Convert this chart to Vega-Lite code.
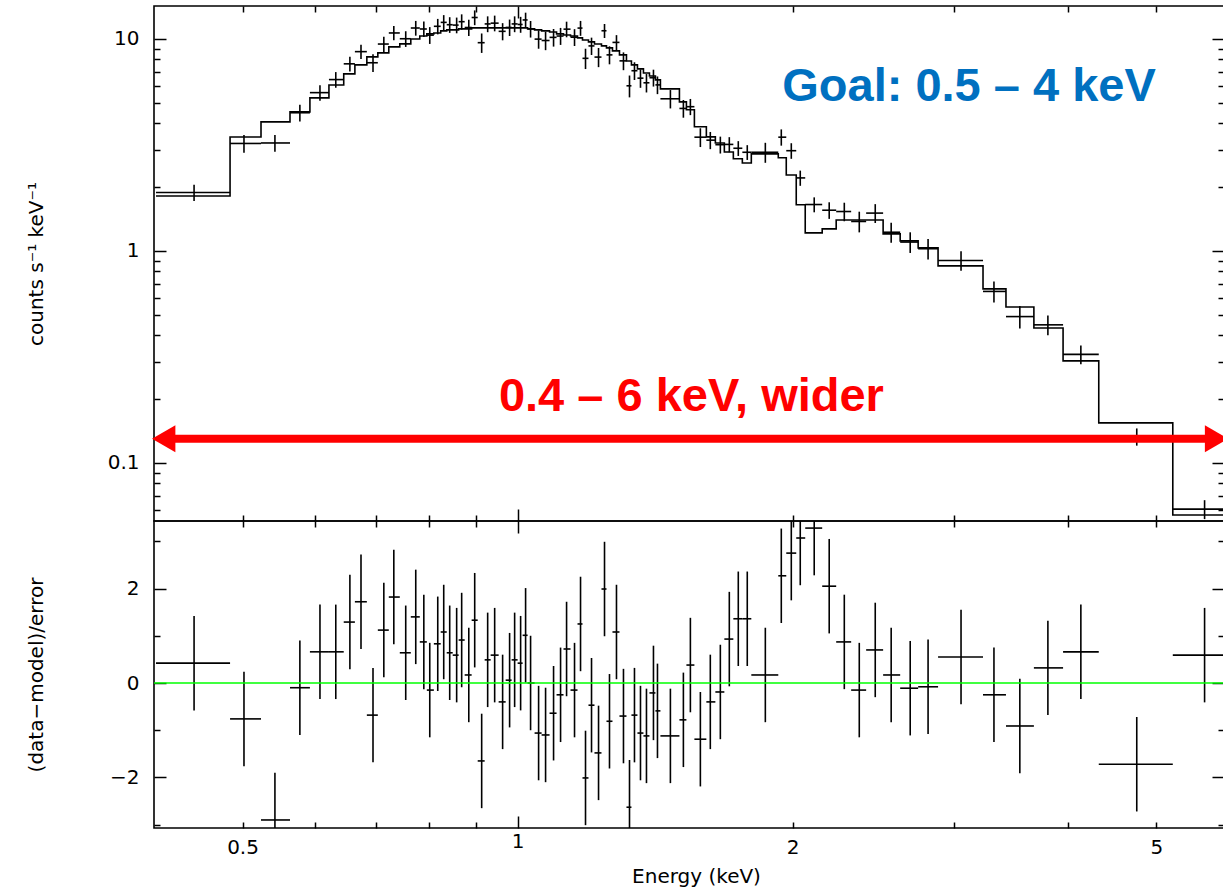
{
  "$schema": "https://vega.github.io/schema/vega-lite/v6.json",
  "padding": {"left": 25, "top": 4, "right": 0, "bottom": 0},
  "spacing": 0,
  "bounds": "flush",
  "datasets": {
    "bins": [
      {"e": 0.4425, "lo": 0.402, "hi": 0.4845, "rate": 1.886, "err": 0.164, "res": 0.42, "rerr": 1},
      {"e": 0.5018, "lo": 0.4845, "hi": 0.5238, "rate": 3.213, "err": 0.31, "res": -0.76, "rerr": 1},
      {"e": 0.5425, "lo": 0.5238, "hi": 0.5635, "rate": 3.23, "err": 0.29, "res": -2.9, "rerr": 1},
      {"e": 0.5777, "lo": 0.5635, "hi": 0.5925, "rate": 4.485, "err": 0.407, "res": -0.1, "rerr": 1},
      {"e": 0.6077, "lo": 0.5925, "hi": 0.6216, "rate": 5.58, "err": 0.474, "res": 0.66, "rerr": 1},
      {"e": 0.6324, "lo": 0.6216, "hi": 0.6452, "rate": 6.43, "err": 0.546, "res": 0.66, "rerr": 1},
      {"e": 0.6553, "lo": 0.6452, "hi": 0.6636, "rate": 7.63, "err": 0.615, "res": 1.29, "rerr": 1},
      {"e": 0.6739, "lo": 0.6636, "hi": 0.6839, "rate": 8.71, "err": 0.679, "res": 1.72, "rerr": 1},
      {"e": 0.6946, "lo": 0.6839, "hi": 0.7031, "rate": 7.72, "err": 0.741, "res": -0.68, "rerr": 1},
      {"e": 0.7138, "lo": 0.7031, "hi": 0.7228, "rate": 9.46, "err": 0.773, "res": 1.12, "rerr": 1},
      {"e": 0.732, "lo": 0.7228, "hi": 0.7431, "rate": 10.67, "err": 0.825, "res": 1.82, "rerr": 1},
      {"e": 0.7543, "lo": 0.7431, "hi": 0.764, "rate": 10.02, "err": 0.853, "res": 0.64, "rerr": 1},
      {"e": 0.7736, "lo": 0.764, "hi": 0.7815, "rate": 11.26, "err": 0.9, "res": 1.4, "rerr": 1},
      {"e": 0.7895, "lo": 0.7815, "hi": 0.7955, "rate": 11.14, "err": 0.93, "res": 0.87, "rerr": 1},
      {"e": 0.8014, "lo": 0.7955, "hi": 0.8097, "rate": 10.42, "err": 0.95, "res": -0.15, "rerr": 1},
      {"e": 0.8177, "lo": 0.8097, "hi": 0.8238, "rate": 11.47, "err": 0.96, "res": 0.83, "rerr": 1},
      {"e": 0.8301, "lo": 0.8238, "hi": 0.8364, "rate": 11.97, "err": 0.98, "res": 1.08, "rerr": 1},
      {"e": 0.8427, "lo": 0.8364, "hi": 0.8491, "rate": 11.67, "err": 0.99, "res": 0.64, "rerr": 1},
      {"e": 0.8576, "lo": 0.8491, "hi": 0.8619, "rate": 11.62, "err": 0.99, "res": 0.59, "rerr": 1},
      {"e": 0.8685, "lo": 0.8619, "hi": 0.8751, "rate": 12.06, "err": 1.0, "res": 0.91, "rerr": 1},
      {"e": 0.8842, "lo": 0.8751, "hi": 0.8906, "rate": 11.32, "err": 1.0, "res": 0.17, "rerr": 1},
      {"e": 0.8975, "lo": 0.8906, "hi": 0.9043, "rate": 12.62, "err": 1.01, "res": 1.33, "rerr": 1},
      {"e": 0.9134, "lo": 0.9043, "hi": 0.9203, "rate": 9.6, "err": 1.01, "res": -1.65, "rerr": 1},
      {"e": 0.9273, "lo": 0.9203, "hi": 0.9343, "rate": 11.77, "err": 1.01, "res": 0.49, "rerr": 1},
      {"e": 0.9438, "lo": 0.9343, "hi": 0.9533, "rate": 11.87, "err": 1.01, "res": 0.59, "rerr": 1},
      {"e": 0.9629, "lo": 0.9533, "hi": 0.9703, "rate": 10.86, "err": 1.01, "res": -0.4, "rerr": 1},
      {"e": 0.98, "lo": 0.9703, "hi": 0.985, "rate": 11.33, "err": 1.01, "res": 0.06, "rerr": 1},
      {"e": 0.9925, "lo": 0.985, "hi": 1.0, "rate": 11.77, "err": 1.01, "res": 0.49, "rerr": 1},
      {"e": 1.0076, "lo": 1.0, "hi": 1.0127, "rate": 11.7, "err": 1.01, "res": 0.42, "rerr": 1},
      {"e": 1.0203, "lo": 1.0127, "hi": 1.0255, "rate": 12.29, "err": 1.01, "res": 1.01, "rerr": 1},
      {"e": 1.0332, "lo": 1.0255, "hi": 1.0437, "rate": 11.15, "err": 1.0, "res": 0.0, "rerr": 1},
      {"e": 1.0543, "lo": 1.0437, "hi": 1.0623, "rate": 9.98, "err": 0.99, "res": -1.06, "rerr": 1},
      {"e": 1.073, "lo": 1.0623, "hi": 1.0838, "rate": 9.83, "err": 0.98, "res": -1.1, "rerr": 1},
      {"e": 1.0948, "lo": 1.0838, "hi": 1.1031, "rate": 10.17, "err": 0.97, "res": -0.64, "rerr": 1},
      {"e": 1.1143, "lo": 1.1031, "hi": 1.1226, "rate": 10.32, "err": 0.95, "res": -0.25, "rerr": 1},
      {"e": 1.1313, "lo": 1.1226, "hi": 1.1426, "rate": 11.12, "err": 0.94, "res": 0.72, "rerr": 1},
      {"e": 1.1542, "lo": 1.1426, "hi": 1.1629, "rate": 10.19, "err": 0.93, "res": -0.15, "rerr": 1},
      {"e": 1.1718, "lo": 1.1629, "hi": 1.1776, "rate": 11.25, "err": 0.91, "res": 1.25, "rerr": 1},
      {"e": 1.1866, "lo": 1.1776, "hi": 1.1955, "rate": 8.1, "err": 0.89, "res": -2.01, "rerr": 1},
      {"e": 1.2047, "lo": 1.1955, "hi": 1.2137, "rate": 9.27, "err": 0.87, "res": -0.47, "rerr": 1},
      {"e": 1.2262, "lo": 1.2137, "hi": 1.2353, "rate": 8.21, "err": 0.85, "res": -1.48, "rerr": 1},
      {"e": 1.2448, "lo": 1.2353, "hi": 1.251, "rate": 10.93, "err": 0.83, "res": 1.99, "rerr": 1},
      {"e": 1.2605, "lo": 1.251, "hi": 1.27, "rate": 8.41, "err": 0.82, "res": -0.81, "rerr": 1},
      {"e": 1.2829, "lo": 1.27, "hi": 1.2926, "rate": 9.63, "err": 0.79, "res": 1.08, "rerr": 1},
      {"e": 1.3057, "lo": 1.2926, "hi": 1.3156, "rate": 7.88, "err": 0.76, "res": -0.7, "rerr": 1},
      {"e": 1.3257, "lo": 1.3156, "hi": 1.3322, "rate": 6.01, "err": 0.71, "res": -2.63, "rerr": 1},
      {"e": 1.3424, "lo": 1.3322, "hi": 1.3525, "rate": 7.08, "err": 0.68, "res": -0.68, "rerr": 1},
      {"e": 1.3629, "lo": 1.3525, "hi": 1.3731, "rate": 6.53, "err": 0.65, "res": -1.06, "rerr": 1},
      {"e": 1.3836, "lo": 1.3731, "hi": 1.394, "rate": 6.21, "err": 0.62, "res": -1.12, "rerr": 1},
      {"e": 1.4082, "lo": 1.394, "hi": 1.4152, "rate": 6.56, "err": 0.6, "res": -0.21, "rerr": 1},
      {"e": 1.4225, "lo": 1.4152, "hi": 1.4331, "rate": 6.07, "err": 0.58, "res": -0.59, "rerr": 1},
      {"e": 1.4696, "lo": 1.4331, "hi": 1.5034, "rate": 5.22, "err": 0.52, "res": -1.12, "rerr": 1},
      {"e": 1.5185, "lo": 1.5034, "hi": 1.5301, "rate": 4.7, "err": 0.45, "res": -0.78, "rerr": 1},
      {"e": 1.5455, "lo": 1.5301, "hi": 1.5612, "rate": 4.79, "err": 0.42, "res": 0.38, "rerr": 1},
      {"e": 1.5849, "lo": 1.5612, "hi": 1.609, "rate": 3.44, "err": 0.35, "res": -1.19, "rerr": 1},
      {"e": 1.6251, "lo": 1.609, "hi": 1.6459, "rate": 3.33, "err": 0.31, "res": -0.4, "rerr": 1},
      {"e": 1.6667, "lo": 1.6459, "hi": 1.6836, "rate": 3.17, "err": 0.29, "res": -0.19, "rerr": 1},
      {"e": 1.7048, "lo": 1.6836, "hi": 1.7222, "rate": 3.18, "err": 0.26, "res": 0.93, "rerr": 1},
      {"e": 1.7438, "lo": 1.7222, "hi": 1.7617, "rate": 3.05, "err": 0.245, "res": 1.36, "rerr": 1},
      {"e": 1.7837, "lo": 1.7617, "hi": 1.802, "rate": 2.92, "err": 0.234, "res": 1.36, "rerr": 1},
      {"e": 1.8668, "lo": 1.802, "hi": 1.9287, "rate": 2.92, "err": 0.316, "res": 0.17, "rerr": 1},
      {"e": 1.9434, "lo": 1.9287, "hi": 1.9679, "rate": 3.44, "err": 0.303, "res": 2.27, "rerr": 1},
      {"e": 1.993, "lo": 1.9679, "hi": 2.018, "rate": 2.97, "err": 0.251, "res": 2.75, "rerr": 1},
      {"e": 2.0385, "lo": 2.018, "hi": 2.0642, "rate": 2.21, "err": 0.182, "res": 3.07, "rerr": 1},
      {"e": 2.1115, "lo": 2.0642, "hi": 2.1544, "rate": 1.655, "err": 0.134, "res": 3.28, "rerr": 1},
      {"e": 2.1928, "lo": 2.1544, "hi": 2.2317, "rate": 1.556, "err": 0.14, "res": 2.05, "rerr": 1},
      {"e": 2.2778, "lo": 2.2317, "hi": 2.3175, "rate": 1.534, "err": 0.154, "res": 0.87, "rerr": 1},
      {"e": 2.3654, "lo": 2.3175, "hi": 2.4067, "rate": 1.377, "err": 0.154, "res": -0.15, "rerr": 1},
      {"e": 2.4625, "lo": 2.4067, "hi": 2.5119, "rate": 1.508, "err": 0.154, "res": 0.7, "rerr": 1},
      {"e": 2.5634, "lo": 2.5119, "hi": 2.6222, "rate": 1.225, "err": 0.132, "res": 0.17, "rerr": 1},
      {"e": 2.6893, "lo": 2.6222, "hi": 2.7437, "rate": 1.101, "err": 0.123, "res": -0.11, "rerr": 1},
      {"e": 2.8132, "lo": 2.7437, "hi": 2.8849, "rate": 1.024, "err": 0.114, "res": -0.08, "rerr": 1},
      {"e": 3.0568, "lo": 2.8849, "hi": 3.2309, "rate": 0.901, "err": 0.094, "res": 0.55, "rerr": 1},
      {"e": 3.3212, "lo": 3.2309, "hi": 3.4233, "rate": 0.644, "err": 0.073, "res": -0.25, "rerr": 1},
      {"e": 3.545, "lo": 3.4233, "hi": 3.6728, "rate": 0.49, "err": 0.06, "res": -0.91, "rerr": 1},
      {"e": 3.8047, "lo": 3.6728, "hi": 3.9531, "rate": 0.448, "err": 0.048, "res": 0.32, "rerr": 1},
      {"e": 4.1343, "lo": 3.9531, "hi": 4.3251, "rate": 0.325, "err": 0.033, "res": 0.66, "rerr": 1},
      {"e": 4.7597, "lo": 4.3251, "hi": 5.2121, "rate": 0.133, "err": 0.0124, "res": -1.72, "rerr": 1},
      {"e": 5.6468, "lo": 5.2121, "hi": 6.3418, "rate": 0.0605, "err": 0.0062, "res": 0.59, "rerr": 1}
    ],
    "model": [
      {"lo": 0.402, "m": 1.817}, {"lo": 0.4845, "m": 3.449}, {"lo": 0.5238, "m": 4.06},
      {"lo": 0.5635, "m": 4.526}, {"lo": 0.5925, "m": 5.269}, {"lo": 0.6216, "m": 6.067},
      {"lo": 0.6452, "m": 6.838}, {"lo": 0.6636, "m": 7.541}, {"lo": 0.6839, "m": 8.228},
      {"lo": 0.7031, "m": 8.59}, {"lo": 0.7228, "m": 9.17}, {"lo": 0.7431, "m": 9.473},
      {"lo": 0.764, "m": 10.0}, {"lo": 0.7815, "m": 10.33}, {"lo": 0.7955, "m": 10.56},
      {"lo": 0.8097, "m": 10.67}, {"lo": 0.8238, "m": 10.91}, {"lo": 0.8364, "m": 11.03},
      {"lo": 0.8491, "m": 11.03}, {"lo": 0.8619, "m": 11.15}, {"lo": 0.8751, "m": 11.15},
      {"lo": 0.8906, "m": 11.27}, {"lo": 0.9043, "m": 11.27}, {"lo": 0.9203, "m": 11.27},
      {"lo": 0.9343, "m": 11.27}, {"lo": 0.9533, "m": 11.27}, {"lo": 0.9703, "m": 11.27},
      {"lo": 0.985, "m": 11.27}, {"lo": 1.0, "m": 11.27}, {"lo": 1.0127, "m": 11.27},
      {"lo": 1.0255, "m": 11.15}, {"lo": 1.0437, "m": 11.03}, {"lo": 1.0623, "m": 10.91},
      {"lo": 1.0838, "m": 10.79}, {"lo": 1.1031, "m": 10.56}, {"lo": 1.1226, "m": 10.44},
      {"lo": 1.1426, "m": 10.33}, {"lo": 1.1629, "m": 10.11}, {"lo": 1.1776, "m": 9.89},
      {"lo": 1.1955, "m": 9.68}, {"lo": 1.2137, "m": 9.47}, {"lo": 1.2353, "m": 9.27},
      {"lo": 1.251, "m": 9.07}, {"lo": 1.27, "m": 8.78}, {"lo": 1.2926, "m": 8.41},
      {"lo": 1.3156, "m": 7.87}, {"lo": 1.3322, "m": 7.54}, {"lo": 1.3525, "m": 7.22},
      {"lo": 1.3731, "m": 6.91}, {"lo": 1.394, "m": 6.69}, {"lo": 1.4152, "m": 6.41},
      {"lo": 1.4331, "m": 5.81}, {"lo": 1.5034, "m": 5.05}, {"lo": 1.5301, "m": 4.63},
      {"lo": 1.5612, "m": 3.85}, {"lo": 1.609, "m": 3.45}, {"lo": 1.6459, "m": 3.23},
      {"lo": 1.6836, "m": 2.93}, {"lo": 1.7222, "m": 2.72}, {"lo": 1.7617, "m": 2.6},
      {"lo": 1.802, "m": 2.87}, {"lo": 1.9287, "m": 2.75}, {"lo": 1.9679, "m": 2.28},
      {"lo": 2.018, "m": 1.65}, {"lo": 2.0642, "m": 1.216}, {"lo": 2.1544, "m": 1.27},
      {"lo": 2.2317, "m": 1.4}, {"lo": 2.3175, "m": 1.4}, {"lo": 2.4067, "m": 1.4},
      {"lo": 2.5119, "m": 1.203}, {"lo": 2.6222, "m": 1.115}, {"lo": 2.7437, "m": 1.033},
      {"lo": 2.8849, "m": 0.85}, {"lo": 3.2309, "m": 0.662}, {"lo": 3.4233, "m": 0.544},
      {"lo": 3.6728, "m": 0.433}, {"lo": 3.9531, "m": 0.303}, {"lo": 4.3251, "m": 0.1544},
      {"lo": 5.2121, "m": 0.0568}, {"lo": 6.3418, "m": 0.0568}
    ]
  },
  "vconcat": [
    {
      "width": 1070,
      "height": 515,
      "resolve": {"axis": {"x": "independent", "y": "independent"}},
      "layer": [
        {
          "data": {"name": "model"},
          "mark": {"type": "line", "interpolate": "step-after", "color": "black", "strokeWidth": 1.6, "clip": true},
          "encoding": {
            "x": {"field": "lo", "type": "quantitative",
              "scale": {"type": "log", "domain": [0.4, 5.93], "nice": false},
              "axis": {"orient": "bottom", "values": [0.5, 0.6, 0.7, 0.8, 0.9, 1, 2, 3, 4, 5], "labels": false, "title": null,
                "tickSize": {"condition": {"test": "datum.value == 1", "value": -12}, "value": -6}}},
            "y": {"field": "m", "type": "quantitative",
              "scale": {"type": "log", "domain": [0.0532, 14.3], "nice": false},
              "axis": {"orient": "left", "values": [0.06, 0.07, 0.08, 0.09, 0.1, 0.2, 0.3, 0.4, 0.5, 0.6, 0.7, 0.8, 0.9, 1, 2, 3, 4, 5, 6, 7, 8, 9, 10],
                "format": "~g",
                "labelExpr": "datum.value == 0.1 || datum.value == 1 || datum.value == 10 ? datum.label : ''",
                "labelFontSize": 20,
                "tickSize": {"condition": {"test": "datum.value == 0.1 || datum.value == 1 || datum.value == 10", "value": -12}, "value": -6},
                "labelPadding": 27,
                "title": "counts  s⁻¹  keV⁻¹", "titleFontSize": 20, "titleX": -118, "titleBaseline": "middle"}}
          }
        },
        {
          "data": {"name": "bins"},
          "mark": {"type": "rule", "color": "black", "strokeWidth": 1.6, "clip": true},
          "encoding": {
            "x": {"field": "lo", "type": "quantitative",
              "axis": {"orient": "top", "values": [0.5, 0.6, 0.7, 0.8, 0.9, 1, 2, 3, 4, 5], "labels": false, "title": null,
                "tickSize": {"condition": {"test": "datum.value == 1", "value": -12}, "value": -6}}},
            "x2": {"field": "hi"},
            "y": {"field": "rate", "type": "quantitative",
              "axis": {"orient": "right", "values": [0.06, 0.07, 0.08, 0.09, 0.1, 0.2, 0.3, 0.4, 0.5, 0.6, 0.7, 0.8, 0.9, 1, 2, 3, 4, 5, 6, 7, 8, 9, 10],
                "labels": false, "title": null,
                "tickSize": {"condition": {"test": "datum.value == 0.1 || datum.value == 1 || datum.value == 10", "value": -12}, "value": -6}}}
          }
        },
        {
          "data": {"name": "bins"},
          "mark": {"type": "errorbar", "color": "black", "thickness": 1.6, "clip": true},
          "encoding": {
            "x": {"field": "e", "type": "quantitative", "axis": null},
            "y": {"field": "rate", "type": "quantitative", "axis": null},
            "yError": {"field": "err"}
          }
        },
        {
          "data": {"values": [{"from": 0.4099, "to": 5.82, "level": 0.13}]},
          "mark": {"type": "rule", "color": "#ff0000", "strokeWidth": 8, "strokeCap": "butt"},
          "encoding": {
            "x": {"field": "from", "type": "quantitative", "axis": null},
            "x2": {"field": "to"},
            "y": {"field": "level", "type": "quantitative", "axis": null}
          }
        },
        {
          "data": {"values": [{"at": 0.4099, "level": 0.13}]},
          "mark": {"type": "point", "shape": "triangle-left", "size": 729, "filled": true, "color": "#ff0000", "opacity": 1, "clip": false},
          "encoding": {
            "x": {"field": "at", "type": "quantitative", "axis": null},
            "y": {"field": "level", "type": "quantitative", "axis": null}
          }
        },
        {
          "data": {"values": [{"at": 5.82, "level": 0.13}]},
          "mark": {"type": "point", "shape": "triangle-right", "size": 729, "filled": true, "color": "#ff0000", "opacity": 1, "clip": false},
          "encoding": {
            "x": {"field": "at", "type": "quantitative", "axis": null},
            "y": {"field": "level", "type": "quantitative", "axis": null}
          }
        },
        {
          "data": {"values": [{"at": 3.119, "level": 5.1, "note": "Goal: 0.5 – 4 keV"}]},
          "mark": {"type": "text", "font": "Liberation Sans", "fontWeight": "bold", "fontSize": 47, "color": "#0070c0", "align": "center", "baseline": "alphabetic"},
          "encoding": {
            "x": {"field": "at", "type": "quantitative", "axis": null},
            "y": {"field": "level", "type": "quantitative", "axis": null},
            "text": {"field": "note"}
          }
        },
        {
          "data": {"values": [{"at": 1.5495, "level": 0.1759, "note": "0.4 – 6 keV, wider"}]},
          "mark": {"type": "text", "font": "Liberation Sans", "fontWeight": "bold", "fontSize": 47, "color": "#ff0000", "align": "center", "baseline": "alphabetic"},
          "encoding": {
            "x": {"field": "at", "type": "quantitative", "axis": null},
            "y": {"field": "level", "type": "quantitative", "axis": null},
            "text": {"field": "note"}
          }
        }
      ]
    },
    {
      "width": 1070,
      "height": 307,
      "data": {"name": "bins"},
      "resolve": {"axis": {"x": "independent", "y": "independent"}},
      "layer": [
        {
          "mark": {"type": "rule", "color": "black", "strokeWidth": 1.6, "clip": true},
          "encoding": {
            "x": {"field": "lo", "type": "quantitative",
              "scale": {"type": "log", "domain": [0.4, 5.93], "nice": false},
              "axis": {"orient": "bottom", "values": [0.5, 0.6, 0.7, 0.8, 0.9, 1, 2, 3, 4, 5], "format": "~g",
                "labelExpr": "datum.value == 0.5 || datum.value == 1 || datum.value == 2 || datum.value == 5 ? datum.label : ''",
                "labelFontSize": 20,
                "tickSize": {"condition": {"test": "datum.value == 1", "value": -12}, "value": -6},
                "labelPadding": 15,
                "title": "Energy (keV)", "titleFontSize": 20, "titleX": 542, "titleY": 38, "titleBaseline": "top"}},
            "x2": {"field": "hi"},
            "y": {"field": "res", "type": "quantitative",
              "scale": {"domain": [-3.07, 3.43], "nice": false, "zero": false},
              "axis": {"orient": "left", "values": [-3, -2, -1, 0, 1, 2, 3],
                "labelExpr": "datum.value % 2 == 0 ? datum.label : ''",
                "labelFontSize": 20,
                "tickSize": {"condition": {"test": "datum.value % 2 == 0", "value": -12}, "value": -6},
                "labelPadding": 27,
                "title": "(data−model)/error", "titleFontSize": 20, "titleX": -118, "titleBaseline": "middle"}}
          }
        },
        {
          "mark": {"type": "errorbar", "color": "black", "thickness": 1.6, "clip": true},
          "encoding": {
            "x": {"field": "e", "type": "quantitative", "axis": null},
            "y": {"field": "res", "type": "quantitative", "axis": null},
            "yError": {"field": "rerr"}
          }
        },
        {
          "data": {"values": [{"from": 0.4, "to": 5.93, "level": 0}]},
          "mark": {"type": "rule", "color": "#00ff00", "strokeWidth": 1.6, "clip": true},
          "encoding": {
            "x": {"field": "from", "type": "quantitative",
              "axis": {"orient": "top", "values": [0.5, 0.6, 0.7, 0.8, 0.9, 1, 2, 3, 4, 5], "labels": false, "title": null,
                "tickSize": {"condition": {"test": "datum.value == 1", "value": -12}, "value": -6}}},
            "x2": {"field": "to"},
            "y": {"field": "level", "type": "quantitative",
              "axis": {"orient": "right", "values": [-3, -2, -1, 0, 1, 2, 3], "labels": false, "title": null,
                "tickSize": {"condition": {"test": "datum.value % 2 == 0", "value": -12}, "value": -6}}}
          }
        }
      ]
    }
  ],
  "config": {
    "view": {"stroke": "black", "strokeWidth": 1.6},
    "axis": {
      "domain": false, "grid": false,
      "labelFont": "DejaVu Sans", "labelFontSize": 20, "labelColor": "black",
      "titleFont": "DejaVu Sans", "titleFontSize": 18, "titleFontWeight": "normal", "titleColor": "black",
      "tickColor": "black", "tickWidth": 1.5,
      "labelOverlap": false, "labelFlush": false, "labelBound": false
    }
  }
}
